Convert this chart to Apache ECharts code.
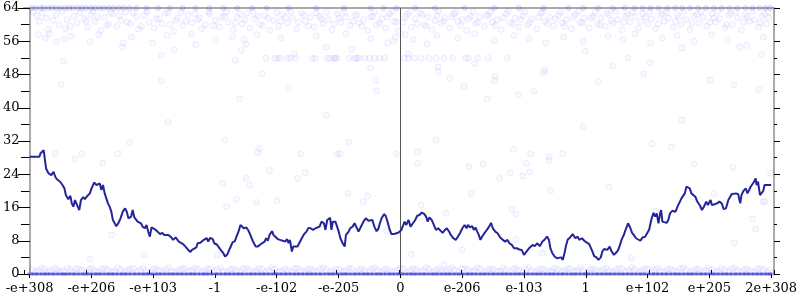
<!DOCTYPE html>
<html>
<head>
<meta charset="utf-8">
<script src="https://cdn.jsdelivr.net/npm/echarts@6/dist/echarts.min.js"></script>
<style>html,body{margin:0;padding:0;background:#fff;}#c{width:800px;height:300px;}</style>
</head>
<body>
<div id="c"></div>
<script>
// x tick labels (evenly spaced positions along the axis)
const xLabels = ['-e+308','-e+206','-e+103','-1','-e-102','-e-205','0','e-206','e-103','1','e+102','e+205','2e+308'];
const xStep = 62.5;
const xMax = 750;
const yMin = 0, yMax = 64, yStep = 8;

// main line (random-walk like curve)
const lineX = [0,10,11,14.3,15,16.7,19.3,22,24.3,26,27.7,29.3,31,33.3,35.3,36.7,39.3,41.3,42.7,44.3,46,47.7,48.7,50.3,52,54.3,56,57.7,61,62.7,65.3,67.7,69.3,71,72.7,74.3,76,77.7,79.3,81,82.7,84.3,86,87.7,90,92,94.3,96.7,98.3,100,102.7,104.3,106,107.7,109.3,111,112.7,114.3,116.7,118.3,120,121.7,123.3,125.3,127.7,129.3,132,134.3,136,137.7,140,142.7,145.3,147.7,149.3,151,152.7,155.3,157.7,160,162.7,164.3,166,168.7,170,172.7,174.3,
176,179.3,180.7,182.7,185.3,186.7,189.3,191,193.3,196,197.7,200,202.7,205.3,207.7,209.3,211.3,213.3,215.3,216.7,219.3,221,223.3,226,228.7,231,233.3,235.3,237.7,239.3,241,242.7,245.3,246.7,248.7,251,253.3,256,258.7,260.3,262,263.3,265.3,266.7,268.7,271,272.7,275.3,277.7,280,282,284.3,286.7,289.3,291,293.3,295.3,297.7,299.3,301,302.7,304,305.3,306.7,309.3,311,312.7,314.3,316.7,318.7,320,322.7,324.3,326.7,328.7,330,332.7,334.3,336,337.7,340,342.7,344.3,346.7,348.7,351,352.7,354.3,356,358.7,360.3,362,364.3,366,368.7,371,373.3,
376,379.3,381,383.3,385.3,387.7,390,392,394.3,396.7,399.3,401,402.7,404.3,406.7,408.7,411,413.3,415.3,417.7,419.3,422,424.3,426,428.7,431,433.3,435.3,437.7,440,442,443.3,445.3,447.7,449.3,451,452.7,454.3,456,457.7,460,462,464.3,466.7,468.7,471,473.3,476,478.7,481,483.3,485.3,487.7,490,492.7,495.3,497.7,500,502,504.3,506,508.7,511,513.3,516,518.7,521,523.3,525.3,526.7,528.7,531,533.3,535.3,537.7,539.3,541,542.7,544.3,546.7,549.3,552,554.3,
556,558.7,561,563.3,566,567.7,569.3,571,573.3,575.3,577.7,579.3,581,582.7,584.3,586.7,588.7,591,592.7,594.3,596,598.7,601,603.3,605.3,607.7,609.3,611,613.3,615.3,617.7,620,622.7,624.3,626.7,628.7,631,632.7,634.3,636,637.7,638.7,640,642,644.3,646,647.7,650,652,653.3,655.3,657.7,659.3,661,662.7,664.3,666,667.7,669.3,671,673.3,675.3,677.7,680,682,684.3,686,688.7,690,692.7,695.3,697.7,700,702,704.3,706.7,708.7,710,712,714.3,716.7,718.7,720,722,724.3,726,727.7,729.3,731,732.7,734.3,735.3,736.7,738.7,740,742,743.3,746,750];
const lineY = [28.2,28.2,29.0,29.8,29.6,25.4,24.2,23.8,24.6,23.4,22.8,22.6,22.2,21.4,20.6,19.0,18.0,18.8,17.0,16.2,17.8,17.6,16.2,15.4,17.8,18.5,18.0,18.6,19.4,20.6,22.0,21.4,21.0,21.8,20.2,21.4,19.4,19.0,17.0,16.2,15.0,13.0,12.6,11.5,12.3,13.4,15.0,15.8,15.0,13.4,13.8,15.4,13.6,13.4,12.6,13.0,12.2,11.4,11.0,11.8,10.2,9.0,11.2,11.5,10.6,10.4,9.6,9.9,9.4,9.8,9.4,9.0,8.2,8.8,9.1,7.8,7.4,7.2,6.6,5.9,5.3,5.8,6.2,6.4,7.4,7.5,7.2,
8.2,8.6,7.8,8.7,8.4,7.4,7.1,6.6,5.8,5.0,4.2,4.7,6.2,7.6,7.9,9.0,10.2,11.8,11.4,11.0,11.2,10.6,9.4,7.8,6.6,6.6,7.1,6.9,7.8,8.6,8.0,9.4,10.3,9.4,9.0,8.4,8.2,8.0,7.8,8.4,7.4,8.2,5.4,6.6,7.0,6.6,7.4,8.6,9.6,10.2,11.1,11.0,10.6,11.0,10.6,11.4,12.6,12.2,10.6,13.0,12.6,13.5,10.6,12.6,12.6,11.4,10.2,8.6,7.4,6.6,9.4,10.2,11.0,11.4,12.2,11.8,10.2,10.6,11.8,12.6,13.4,12.8,13.2,13.0,11.4,10.3,10.8,12.2,13.4,14.4,13.9,12.6,10.6,9.6,9.6,9.8,10.0,
10.6,12.6,11.8,13.0,11.4,12.2,13.0,14.0,14.2,14.8,14.4,13.8,12.6,13.6,13.0,13.1,10.6,11.0,11.2,9.9,10.4,11.0,10.2,9.4,8.6,8.2,9.0,9.8,11.0,11.8,11.0,11.8,11.2,11.5,10.6,11.2,10.2,9.4,8.2,9.0,9.8,10.2,11.2,12.3,10.9,10.2,9.8,8.8,8.2,7.8,8.2,7.4,7.0,6.2,6.2,5.9,5.8,4.6,5.0,5.9,6.4,7.0,6.7,7.4,6.7,7.8,8.3,9.0,8.2,6.2,5.0,4.2,3.8,3.5,4.0,3.4,5.0,7.0,8.3,8.8,9.6,8.6,9.0,
8.2,8.6,8.0,7.6,7.2,7.4,5.4,4.3,4.0,3.4,4.0,5.4,6.0,6.4,5.8,6.6,5.4,4.6,4.2,5.4,6.2,8.2,9.4,11.0,12.2,11.0,9.9,9.4,8.6,8.6,8.0,8.8,9.0,9.4,10.7,13.0,14.7,13.8,14.6,12.2,14.6,15.4,12.6,13.0,12.3,13.0,14.6,15.2,15.6,15.0,16.2,17.4,18.2,18.6,19.4,21.0,21.4,20.6,19.4,19.0,18.6,17.4,16.6,15.4,16.2,17.4,16.6,17.8,16.6,16.8,17.0,17.4,17.0,15.6,15.8,17.8,17.6,19.2,19.0,19.4,19.2,17.0,19.0,20.0,20.6,19.4,20.2,21.0,21.2,22.2,23.0,21.4,22.2,19.0,19.4,20.0,21.4,21.4,21.4];

// faint scatter: dense cloud near the top
const topCloud = [[7,62.2],[10,60.8],[17,61.6],[19,58.8],[9,57.6],[27,62.4],[30,60.0],[36,59.0],[38,61.2],[45,62.0],[48,60.4],[55,61.4],[59,59.4],[62,62.3],[66,60.8],[72,58.6],[76,61.8],[80,60.1],[84,62.6],[88,59.6],[93,61.0],[97,63.0],[102,60.2],[108,61.9],[110,58.9],[116,62.2],[121,60.6],[126,59.2],[131,61.4],[137,62.7],[142,60.0],[146,58.4],[150,61.6],[155,59.8],[160,62.4],[164,60.5],[170,61.2],[174,59.0],
[178,60.0],[182,62.6],[188,61.0],[192,59.4],[197,62.0],[201,60.6],[206,58.8],[210,61.8],[215,60.2],[220,62.8],[223,59.2],[228,61.4],[233,60.0],[238,62.2],[243,58.6],[247,61.0],[252,59.6],[256,62.4],[261,60.4],[266,61.6],[270,59.0],[275,62.8],[279,60.8],[284,61.8],[288,59.4],[293,62.0],[297,60.2],[302,61.2],[306,58.8],[311,62.6],[315,60.6],[320,61.8],[324,59.8],[329,62.2],[333,60.4],[338,61.2],[342,58.6],[347,62.0],[351,60.0],[356,61.4],[360,59.2],[364,62.6],[369,60.8],[373,58.4],
[378,60.6],[382,62.4],[386,59.4],[390,61.4],[395,62.8],[399,60.0],[403,61.8],[407,58.8],[412,62.2],[416,60.4],[420,61.6],[425,59.2],[429,62.6],[433,60.8],[438,61.2],[442,58.6],[446,62.0],[451,60.2],[455,61.8],[460,59.6],[464,62.4],[468,60.6],[473,61.2],[477,58.8],[482,62.6],[486,60.4],[491,61.6],[495,59.4],[499,62.2],[504,60.0],[508,61.4],[513,59.0],[517,62.8],[521,60.8],[526,61.8],[530,59.6],[535,62.2],[539,60.4],[543,61.2],[548,59.0],[552,62.4],[557,60.6],[561,61.6],[566,59.2],[570,62.0],[574,60.2],
[578,61.6],[582,59.6],[586,62.4],[590,60.4],[595,61.2],[599,58.8],[603,62.0],[607,60.6],[612,61.8],[616,59.2],[620,62.6],[625,60.2],[629,61.4],[633,59.0],[638,62.2],[642,60.8],[646,61.6],[651,59.4],[655,62.4],[659,60.0],[664,61.2],[668,58.8],[672,62.0],[677,60.4],[681,61.8],[685,59.6],[690,62.6],[694,60.6],[698,61.4],[703,59.2],[707,62.2],[711,60.0],[716,61.6],[720,58.8],[724,62.4],[728,60.8],[733,61.2],[737,59.4],[741,62.0],[745,60.2],[748,61.6]];
const topCloud2 = [[4,63.0],[13,62.8],[24,61.0],[33,63.2],[41,59.6],[51,62.9],[57,60.8],[64,63.1],[69,61.8],[78,59.8],[82,63.0],[91,62.2],[99,60.6],[105,62.8],[113,59.6],[119,63.1],[128,61.4],[134,60.2],[140,62.9],[148,61.0],[153,63.0],[158,60.8],[167,62.6],[172,61.6],[181,63.1],[186,59.8],[194,61.8],[199,63.0],[208,60.4],[213,62.6],[218,61.2],[226,63.0],[231,62.0],[236,59.8],[241,61.6],[250,62.9],[254,60.8],[259,61.8],[264,63.1],[272,60.6],[277,62.2],[282,59.6],[290,62.8],[295,61.4],[300,63.0],[308,60.2],[313,61.6],[318,63.1],[327,60.8],[331,62.4],[336,59.6],[345,61.8],[349,63.0],[354,60.4],[362,61.8],[367,63.1],[371,60.6],[380,61.8],[384,63.0],[392,60.2],[397,62.4],[401,59.6],[410,61.0],[414,63.1],[419,60.8],[427,61.8],[431,63.0],[436,59.8],[444,61.4],[449,63.1],[453,60.6],[462,62.2],[466,63.0],[471,59.8],[479,61.6],[484,63.1],[489,60.2],[497,61.2],[501,63.0],[506,60.6],[515,61.8],[519,63.1],[524,60.2],[532,61.4],[537,63.0],[541,59.6],[550,61.8],[555,63.1],[559,60.4],[568,61.6],[572,63.0],[577,60.0],[584,62.8],[588,61.0],[593,63.1],[601,60.6],[605,62.4],[610,63.0],[618,60.8],[623,61.8],[627,63.1],[636,60.2],[640,62.6],[644,63.0],[653,60.8],[657,61.8],[662,63.1],[670,60.4],[675,62.4],[679,63.0],[688,60.6],[692,61.6],[696,63.1],[705,60.0],[709,62.6],[714,63.0],[722,60.6],[726,61.8],[731,63.1],[739,60.4],[743,62.6],[747,63.0]];

// faint scatter: sparser points below the cloud
const lowerCloud = [[16,56.8],[27,55.9],[35,56.5],[61,56.0],[95,55.6],[94,54.6],[124,55.5],[168,55.2],[34,51.2],[133,52.6],[146,54.0],[32,45.6],[133,46.5],[20,57.8],[42,57.2],[70,57.6],[103,57.0],[139,57.4],[164,57.8],
[188,56.2],[205,57.0],[217,56.4],[230,57.6],[254,56.8],[290,57.2],[320,57.8],[345,56.6],[362,55.6],[370,57.0],[214,53.8],[208,51.4],[219,55.2],[235,48.2],[268,53.0],[300,54.6],[326,54.0],[345,49.5],[350,46.6],[368,56.0],
[380,57.6],[388,56.4],[402,55.4],[412,57.4],[433,56.8],[450,57.8],[470,56.2],[490,57.4],[505,56.6],[522,55.6],[540,57.0],[560,56.0],[413,49.8],[450,50.6],[470,46.5],[520,48.4],[562,53.6],[383,53.0],[425,47.0],[510,44.0],
[585,57.2],[600,56.4],[612,57.8],[628,55.6],[640,56.8],[655,57.4],[672,56.0],[690,57.6],[706,56.4],[725,55.0],[742,57.0],[605,52.0],[590,50.0],[660,54.4],[718,54.6],[740,52.8],[688,46.6],
[262,44.7],[351,44.1],[212.7,42.1],[462.7,42.1],[494.3,43.1],[575.3,46.3],[439.3,45.2],[471,47.6],[413.3,48.7],[521,49.1],[737.7,44.4],[712,45.5],[627.7,50.8],[621,48.1]];

// faint scatter: points along the row near 52
const row52X = [239,248,251,254,261,264,269,286,289,301,304,308,309,311,323,329,331,333,339,344,349,354,359,379,383,389,396,404,411,419,428,441,444,453,464,483];
const row52Y = 51.9;

// faint scatter: isolated points in the middle
const midPoints = [[26,29.0],[53,28.9],[74,26.7],[89,28.9],[46,27.7],[101,31.6],[61,3.6],[83,9.4],[116,4.6],
[197.7,32.2],[232.7,30.2],[231,29.2],[274,28.9],[311,28.9],[314,28.9],[323,31.8],[371,28.9],[242.7,24.9],[278.7,24.4],[271,23.0],[195.3,21.8],[219,23.0],[222.7,21.4],[209.3,18.0],[229.3,17.2],[250,17.6],[199.3,16.2],[322,19.4],[337.7,17.4],[361,10.4],[190,4.6],[342,18.8],
[392.7,29.4],[392.7,26.6],[411,32.2],[444.3,25.8],[458.7,26.5],[489.3,30.0],[506.7,28.9],[502.7,26.6],[525.3,28.2],[525.3,27.3],[539.3,29.0],[486,24.4],[506,24.6],[498.7,23.6],[475.3,23.0],[446.7,19.3],[526.7,20.0],[487.7,15.6],[492,14.4],[421,14.6],[396,16.6],[437.7,5.8],[492,8.3],[386,4.8],[419.3,2.2],[518.7,5.0],
[629.3,31.3],[649.3,30.5],[672,26.5],[711,25.7],[586,20.9],[692,19.4],[742,17.4],[743.3,17.4],[731,13.2],[633.3,15.2],[712.7,7.5],[608.7,3.8],[734.3,10.8],[749.3,24.2],[140,36.5],[300,38.2],[560,35.4],[660,37.0]];

// faint scatter: points along the top edge (value 64)
const row64X = [2,6,11,14,19,23,27,31,36,40,44,49,53,57,62,66,71,75,80,85,90,95,101,108,118,130,142,155,168,182,196,210,225,240,262,290,318,345,358,371,390,410,440,470,495,520,545,560,575,590,602,612,620,628,636,645,653,660,668,676,684,692,700,708,716,724,731,738,744,749];
const row64Y = 64;

// faint scatter: band just above zero
const row1 = [[3,1.0],[9,0.8],[15,1.2],[21,0.9],[28,1.1],[34,0.7],[41,1.0],[47,1.3],[53,0.9],[60,1.1],[66,0.8],[73,1.2],[79,1.0],[86,0.7],[92,1.1],[99,0.9],[105,1.3],[112,1.0],[118,0.8],[125,1.2],[131,0.9],[138,1.1],[144,0.7],[151,1.0],[157,1.3],[164,0.9],[170,1.1],[177,0.8],[183,1.2],[190,1.0],[196,0.7],[203,1.1],[209,0.9],[216,1.3],[222,1.0],[229,0.8],[235,1.2],[242,0.9],[248,1.1],[255,0.7],[261,1.0],[268,1.3],[274,0.9],[281,1.1],[287,0.8],[294,1.2],[300,1.0],[307,0.7],[313,1.1],[320,0.9],[326,1.3],[333,1.0],[339,0.8],[346,1.2],[352,0.9],[359,1.1],[365,0.7],[372,1.0],
[378,1.2],[385,0.9],[391,1.1],[398,0.8],[404,1.2],[411,1.0],[417,0.7],[424,1.1],[430,0.9],[437,1.3],[443,1.0],[450,0.8],[456,1.2],[463,0.9],[469,1.1],[476,0.7],[482,1.0],[489,1.3],[495,0.9],[502,1.1],[508,0.8],[515,1.2],[521,1.0],[528,0.7],[534,1.1],[541,0.9],[547,1.3],[554,1.0],[560,0.8],[567,1.2],[573,0.9],[580,1.1],[586,0.7],[593,1.0],[599,1.3],[606,0.9],[612,1.1],[619,0.8],[625,1.2],[632,1.0],[638,0.7],[645,1.1],[651,0.9],[658,1.3],[664,1.0],[671,0.8],[677,1.2],[684,0.9],[690,1.1],[697,0.7],[703,1.0],[710,1.3],[716,0.9],[723,1.1],[729,0.8],[736,1.2],[742,1.0],[748,0.9]];
const row1b = [[6,0.6],[12,1.4],[18,0.5],[25,1.3],[31,0.6],[38,1.5],[44,0.5],[50,1.2],[57,0.6],[63,1.4],[70,0.5],[76,1.3],[83,0.6],[89,1.5],[96,0.5],[102,1.2],[109,0.6],[115,1.4],[122,0.5],[128,1.3],[135,0.6],[141,1.5],[148,0.5],[154,1.2],[161,0.6],[167,1.4],[174,0.5],[180,1.3],[187,0.6],[193,1.5],[200,0.5],[206,1.2],[213,0.6],[219,1.4],[226,0.5],[232,1.3],[239,0.6],[245,1.5],[252,0.5],[258,1.2],[265,0.6],[271,1.4],[278,0.5],[284,1.3],[291,0.6],[297,1.5],[304,0.5],[310,1.2],[317,0.6],[323,1.4],[330,0.5],[336,1.3],[343,0.6],[349,1.5],[356,0.5],[362,1.2],[369,0.6],[375,1.4],[382,0.5],[388,1.3],[395,0.6],[401,1.5],[408,0.5],[414,1.2],[421,0.6],[427,1.4],[434,0.5],[440,1.3],[447,0.6],[453,1.5],[460,0.5],[466,1.2],[473,0.6],[479,1.4],[486,0.5],[492,1.3],[499,0.6],[505,1.5],[512,0.5],[518,1.2],[525,0.6],[531,1.4],[538,0.5],[544,1.3],[551,0.6],[557,1.5],[564,0.5],[570,1.2],[577,0.6],[583,1.4],[590,0.5],[596,1.3],[603,0.6],[609,1.5],[616,0.5],[622,1.2],[629,0.6],[635,1.4],[642,0.5],[648,1.3],[655,0.6],[661,1.5],[668,0.5],[674,1.2],[681,0.6],[687,1.4],[694,0.5],[700,1.3],[707,0.6],[713,1.5],[720,0.5],[726,1.2],[733,0.6],[739,1.4],[746,0.5]];

// faint scatter: dense points at zero
const row0X = [1,5,9,14,17,22,26,31,35,38,43,47,52,56,60,65,69,73,78,82,86,91,95,99,104,108,113,117,121,126,130,134,139,143,147,152,156,161,165,169,174,178,182,187,191,196,200,204,209,213,217,222,226,231,235,239,244,248,252,257,261,266,270,274,279,283,287,292,296,301,305,309,314,318,322,327,331,336,340,344,349,353,357,362,366,371,375,379,384,388,392,397,401,406,410,414,419,423,427,432,436,441,445,449,454,458,462,467,471,476,480,484,489,493,497,502,506,511,515,519,524,528,532,537,541,546,550,554,559,563,567,572,576,581,585,589,594,598,602,607,611,616,620,624,629,633,637,642,646,651,655,659,664,668,672,677,681,686,690,694,699,703,707,712,716,721,725,729,734,738,742,747,750];
const row0Y = 0;

const zeroPos = xLabels.indexOf('0') * xStep;

const faint = {color:'rgba(0,0,255,0.03)', borderColor:'rgba(0,0,255,0.09)', borderWidth:1};
const font = {fontFamily:'DejaVu Serif', fontSize:13, color:'#000'};
const tickCol = '#000';
const axisCol = '#aaaaaa';
const box = {left:24, right:26, top:8, bottom:26, containLabel:false};

const chart = echarts.init(document.getElementById('c'), null, {renderer:'canvas'});
const xC = {type:'value', min:0, max:xMax, interval:xStep, splitLine:{show:false}};
const yC = {type:'value', min:yMin, max:yMax, interval:yStep, splitLine:{show:false}};
const lineOn = {show:true, onZero:false, lineStyle:{color:axisCol, width:2}};
const tick = (inside, len) => ({show:true, inside:inside, length:len, lineStyle:{color:tickCol, width:1}});
const minor = {show:true, splitNumber:2, length:3, lineStyle:{color:tickCol, width:1}};

chart.setOption({
  animation:false,
  backgroundColor:'#fff',
  grid:[box, box, box, box],
  xAxis:[
    Object.assign({}, xC, {gridIndex:0, position:'bottom', axisLine:lineOn, axisTick:tick(false,4), axisLabel:Object.assign({margin:8, formatter:(v)=>xLabels[Math.round(v/xStep)]}, font)}),
    Object.assign({}, xC, {gridIndex:1, position:'bottom', axisLine:{show:false}, axisTick:tick(true,4), axisLabel:{show:false}}),
    Object.assign({}, xC, {gridIndex:2, position:'top', axisLine:lineOn, axisTick:{show:false}, axisLabel:{show:false}}),
    Object.assign({}, xC, {gridIndex:3, position:'bottom', axisLine:{show:false}, axisTick:{show:false}, axisLabel:{show:false}})
  ],
  yAxis:[
    Object.assign({}, yC, {gridIndex:0, position:'left', axisLine:lineOn, axisTick:tick(false,6), minorTick:minor, axisLabel:Object.assign({margin:10}, font)}),
    Object.assign({}, yC, {gridIndex:1, position:'left', axisLine:{show:false}, axisTick:tick(true,6), minorTick:minor, axisLabel:{show:false}}),
    Object.assign({}, yC, {gridIndex:2, position:'right', axisLine:lineOn, axisTick:tick(false,6), minorTick:minor, axisLabel:{show:false}}),
    Object.assign({}, yC, {gridIndex:3, position:'right', axisLine:{show:false}, axisTick:tick(true,6), minorTick:minor, axisLabel:{show:false}})
  ],
  series:[
    {type:'line', xAxisIndex:1, yAxisIndex:1, data:[], silent:true},
    {type:'line', xAxisIndex:2, yAxisIndex:2, data:[], silent:true},
    {type:'line', xAxisIndex:3, yAxisIndex:3, data:[], silent:true},
    {type:'scatter', symbol:'circle', symbolSize:6, itemStyle:faint, silent:true, z:2, data:topCloud},
    {type:'scatter', symbol:'circle', symbolSize:6, itemStyle:faint, silent:true, z:2, data:topCloud2},
    {type:'scatter', symbol:'circle', symbolSize:6, itemStyle:faint, silent:true, z:2, data:lowerCloud},
    {type:'scatter', symbol:'circle', symbolSize:6, itemStyle:faint, silent:true, z:2, data:midPoints},
    {type:'scatter', symbol:'circle', symbolSize:6, itemStyle:faint, silent:true, z:2, data:row52X.map(x=>[x,row52Y])},
    {type:'scatter', symbol:'circle', symbolSize:6, itemStyle:faint, silent:true, z:2, data:row1},
    {type:'scatter', symbol:'circle', symbolSize:6, itemStyle:faint, silent:true, z:2, data:row1b},
    {type:'scatter', symbol:'circle', symbolSize:5, itemStyle:{color:'rgba(60,60,240,0.12)', borderColor:'rgba(60,60,240,0.2)', borderWidth:1}, silent:true, z:3, data:row64X.map(x=>[x,row64Y])},
    {type:'scatter', symbol:'rect', symbolSize:[7,3], itemStyle:{color:'rgba(45,45,235,0.5)', borderWidth:0}, silent:true, z:3, data:row0X.map(x=>[x,row0Y])},
    {type:'line', xAxisIndex:0, yAxisIndex:0, data:lineX.map((x,i)=>[x,lineY[i]]), showSymbol:false, symbol:'none', z:5,
     lineStyle:{color:'#25259a', width:2}, silent:true,
     markLine:{silent:true, symbol:'none', label:{show:false}, lineStyle:{color:'#555', width:1, type:'solid'}, data:[{xAxis:zeroPos}]}}
  ]
});
</script>
</body>
</html>
